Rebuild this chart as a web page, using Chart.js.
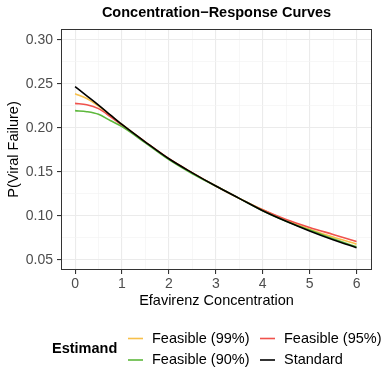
<!DOCTYPE html>
<html>
<head>
<meta charset="utf-8">
<script src="https://cdn.jsdelivr.net/npm/chart.js@4.4.1/dist/chart.umd.min.js"></script>
<style>
  html, body { margin: 0; padding: 0; background: #fff; }
  #wrap { width: 381px; height: 381px; position: relative; }
</style>
</head>
<body>
<div id="wrap"><canvas id="chart" width="381" height="381"></canvas></div>
<script>
// Data
const concentration = [0, 0.25, 0.5, 0.75, 1, 1.5, 2, 2.5, 3, 3.5, 4, 4.5, 5, 5.5, 6];
const feasible99 = [0.239, 0.2335, 0.225, 0.2145, 0.204, 0.184, 0.165, 0.149, 0.134, 0.120, 0.107, 0.095, 0.085, 0.076, 0.068];
const feasible95 = [0.228, 0.2265, 0.222, 0.213, 0.203, 0.184, 0.165, 0.149, 0.134, 0.120, 0.107, 0.096, 0.087, 0.079, 0.071];
const feasible90 = [0.2197, 0.2185, 0.2155, 0.2085, 0.2015, 0.183, 0.164, 0.148, 0.134, 0.120, 0.106, 0.094, 0.084, 0.074, 0.065];
const standard   = [0.247, 0.2365, 0.226, 0.215, 0.204, 0.184, 0.165, 0.149, 0.134, 0.120, 0.106, 0.094, 0.083, 0.073, 0.064];

const seriesNames = ['Feasible (99%)', 'Feasible (95%)', 'Feasible (90%)', 'Standard'];
const xTicks = [0, 0.5, 1, 1.5, 2, 2.5, 3, 3.5, 4, 4.5, 5, 5.5, 6];
const yTicks = [0.05, 0.075, 0.10, 0.125, 0.15, 0.175, 0.20, 0.225, 0.25, 0.275, 0.30];

const colors = ['#F7C04A', '#F0524C', '#5DB83C', '#000000'];
const FONT = "'Liberation Sans', Arial, sans-serif";

function toPoints(ys) {
    return concentration.map((x, i) => ({ x: x, y: ys[i] }));
}

// Is this tick a major one (labelled)?
function isMajor(v, step) {
    return Math.abs(v / step - Math.round(v / step)) < 1e-6;
}

// Title, panel border and the bottom legend
const decorPlugin = {
    id: 'decor',
    afterDraw(chart) {
        const ctx = chart.ctx;
        const a = chart.chartArea;
        ctx.save();
        // panel border
        ctx.strokeStyle = '#333333';
        ctx.lineWidth = 1;
        ctx.strokeRect(a.left + 0.5, a.top + 0.5, a.right - a.left - 1, a.bottom - a.top - 1);

        // title
        ctx.fillStyle = '#000';
        ctx.font = 'bold 14.5px ' + FONT;
        ctx.textAlign = 'center';
        ctx.textBaseline = 'middle';
        ctx.fillText('Concentration\u2212Response Curves', (a.left + a.right) / 2, 12.5);

        // legend
        ctx.textAlign = 'left';
        ctx.font = 'bold 14.5px ' + FONT;
        ctx.fillText('Estimand', 52, 349);
        const cols = [128, 260];
        const rows = [338.5, 360];
        ctx.font = '14.5px ' + FONT;
        seriesNames.forEach((name, i) => {
            const cx = cols[i % 2];
            const cy = rows[Math.floor(i / 2)];
            ctx.strokeStyle = colors[i];
            ctx.lineWidth = 1.6;
            ctx.beginPath();
            ctx.moveTo(cx, cy);
            ctx.lineTo(cx + 15, cy);
            ctx.stroke();
            ctx.fillStyle = '#000';
            ctx.fillText(name, cx + 24, cy);
        });
        ctx.restore();
    }
};

const datasets = [feasible99, feasible95, feasible90, standard].map((ys, i) => ({
    label: seriesNames[i],
    data: toPoints(ys),
    borderColor: colors[i],
    backgroundColor: colors[i],
    borderWidth: 1.6,
    pointRadius: 0,
    fill: false,
    cubicInterpolationMode: 'monotone',
    order: 3 - i
}));

new Chart(document.getElementById('chart'), {
    type: 'line',
    data: { datasets: datasets },
    plugins: [decorPlugin],
    options: {
        responsive: false,
        animation: false,
        layout: { padding: { left: 0, right: 9, top: 29, bottom: 71 } },
        plugins: {
            legend: { display: false },
            title: { display: false },
            tooltip: { enabled: false }
        },
        scales: {
            x: {
                type: 'linear',
                min: -0.3,
                max: 6.33,
                afterBuildTicks: (scale) => { scale.ticks = xTicks.map(v => ({ value: v })); },
                afterFit: (scale) => { scale.height = 40; },
                border: { display: false },
                grid: {
                    color: (c) => isMajor(c.tick.value, 1) ? '#EBEBEB' : '#F3F3F3',
                    lineWidth: (c) => isMajor(c.tick.value, 1) ? 1.1 : 0.7,
                    tickColor: (c) => isMajor(c.tick.value, 1) ? '#333333' : 'rgba(0,0,0,0)',
                    tickLength: 4,
                    drawTicks: true
                },
                ticks: {
                    autoSkip: false,
                    maxRotation: 0,
                    padding: 2,
                    color: '#4D4D4D',
                    font: { family: FONT, size: 14 },
                    callback: (v) => isMajor(v, 1) ? String(v) : ''
                },
                title: {
                    display: true,
                    text: 'Efavirenz Concentration',
                    color: '#000',
                    font: { family: FONT, size: 14.5 },
                    padding: { top: 2, bottom: 0 }
                }
            },
            y: {
                type: 'linear',
                min: 0.0386,
                max: 0.3125,
                afterBuildTicks: (scale) => { scale.ticks = yTicks.map(v => ({ value: v })); },
                afterFit: (scale) => { scale.width = 61; },
                border: { display: false },
                grid: {
                    color: (c) => isMajor(c.tick.value, 0.05) ? '#EBEBEB' : '#F3F3F3',
                    lineWidth: (c) => isMajor(c.tick.value, 0.05) ? 1.1 : 0.7,
                    tickColor: (c) => isMajor(c.tick.value, 0.05) ? '#333333' : 'rgba(0,0,0,0)',
                    tickLength: 4,
                    drawTicks: true
                },
                ticks: {
                    autoSkip: false,
                    padding: 4,
                    color: '#4D4D4D',
                    font: { family: FONT, size: 14 },
                    callback: (v) => isMajor(v, 0.05) ? v.toFixed(2) : ''
                },
                title: {
                    display: true,
                    text: 'P(Viral Failure)',
                    color: '#000',
                    font: { family: FONT, size: 14.5 },
                    padding: { top: 5, bottom: 4 }
                }
            }
        }
    }
});
</script>
</body>
</html>
